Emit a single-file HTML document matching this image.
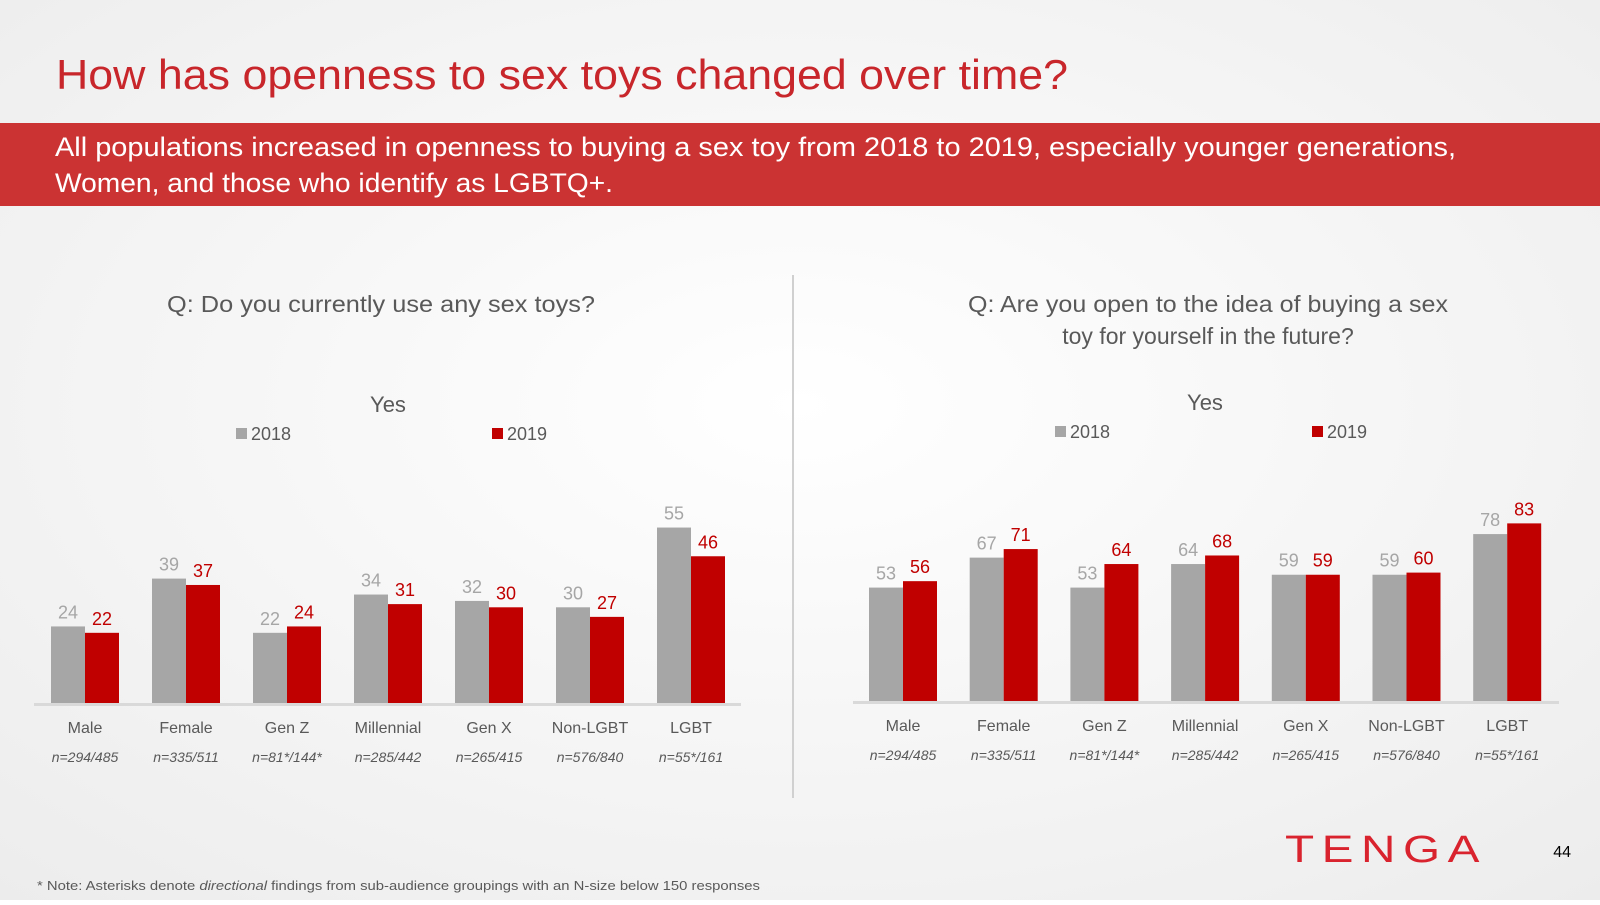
<!DOCTYPE html>
<html><head><meta charset="utf-8"><style>
html,body{margin:0;padding:0;}
body{width:1600px;height:900px;overflow:hidden;font-family:"Liberation Sans",sans-serif;}
svg text{font-family:"Liberation Sans",sans-serif;}
</style></head><body>
<svg id="s" width="1600" height="900" viewBox="0 0 1600 900" xmlns="http://www.w3.org/2000/svg">
<defs><radialGradient id="bg" cx="0.5" cy="0.45" r="0.75"><stop offset="0" stop-color="#ffffff"/><stop offset="1" stop-color="#ececec"/></radialGradient></defs>
<rect width="1600" height="900" fill="url(#bg)"/>
<text x="56" y="89" font-size="42" fill="#c8262b" textLength="1012" lengthAdjust="spacingAndGlyphs">How has openness to sex toys changed over time?</text>
<rect x="0" y="123" width="1600" height="83" fill="#cb3333"/>
<text x="55" y="156" font-size="27" fill="#fff" textLength="1401" lengthAdjust="spacingAndGlyphs">All populations increased in openness to buying a sex toy from 2018 to 2019, especially younger generations,</text>
<text x="55" y="192" font-size="27" fill="#fff" textLength="558" lengthAdjust="spacingAndGlyphs">Women, and those who identify as LGBTQ+.</text>
<line x1="793" y1="275" x2="793" y2="798" stroke="#d0d0d0" stroke-width="2"/>
<text x="381" y="312" font-size="23" fill="#595959" text-anchor="middle" textLength="428" lengthAdjust="spacingAndGlyphs">Q: Do you currently use any sex toys?</text>
<text x="1208" y="312" font-size="23" fill="#595959" text-anchor="middle" textLength="480" lengthAdjust="spacingAndGlyphs">Q: Are you open to the idea of buying a sex</text>
<text x="1208" y="344" font-size="23" fill="#595959" text-anchor="middle">toy for yourself in the future?</text>
<g id="left"></g>
<g id="right"></g>
<g>
<text x="1386" y="862" font-size="38" fill="#d9232e" text-anchor="middle" textLength="202" lengthAdjust="spacingAndGlyphs" letter-spacing="6">TENGA</text>
</g>
<text x="1571" y="857" font-size="16" fill="#000" text-anchor="end">44</text>
<text x="37" y="890" font-size="13" fill="#595959" textLength="723" lengthAdjust="spacingAndGlyphs">* Note: Asterisks denote <tspan font-style="italic">directional</tspan> findings from sub-audience groupings with an N-size below 150 responses</text>
</svg>
<script>
const categories = ["Male","Female","Gen Z","Millennial","Gen X","Non-LGBT","LGBT"];
const sampleSizes = ["n=294/485","n=335/511","n=81*/144*","n=285/442","n=265/415","n=576/840","n=55*/161"];
const useValues2018 = [24,39,22,34,32,30,55];
const useValues2019 = [22,37,24,31,30,27,46];
const openValues2018 = [53,67,53,64,59,59,78];
const openValues2019 = [56,71,64,68,59,60,83];
const seriesNames = ["2018","2019"];

const NS="http://www.w3.org/2000/svg";
function mk(parent,tag,attrs,txt){const e=document.createElementNS(NS,tag);for(const k in attrs)e.setAttribute(k,attrs[k]);if(txt!==undefined)e.textContent=txt;parent.appendChild(e);return e;}

function drawChart(gid,cfg,v18,v19){
  const g=document.getElementById(gid);
  const xC=i=>cfg.x0+i*cfg.step;
  const yS=v=>cfg.base-v*cfg.unit;
  let t=mk(g,'text',{x:cfg.titleX,y:cfg.base-291,'font-size':22,fill:'#595959','text-anchor':'middle'},'Yes');
  
  
  [[cfg.leg1,'#a6a6a6',seriesNames[0]],[cfg.leg2,'#c00000',seriesNames[1]]].forEach(([lx,c,n])=>{
    const r=mk(g,'rect',{x:lx,y:cfg.base-275,width:11,height:11,fill:c});
    
    
    const lt=mk(g,'text',{x:lx+15,y:cfg.base-263,'font-size':18,fill:'#595959'},n);
    
    
  });
  categories.forEach((c,i)=>{
    const cx=xC(i),w=34;
    const a=mk(g,'rect',{x:cx-w,y:yS(v18[i]),width:w,height:v18[i]*cfg.unit,fill:'#a6a6a6'});
    
    
    const b=mk(g,'rect',{x:cx,y:yS(v19[i]),width:w,height:v19[i]*cfg.unit,fill:'#c00000'});
    
    
    const la=mk(g,'text',{x:cx-17,y:yS(v18[i])-8,'font-size':18,fill:'#a6a6a6','text-anchor':'middle'},v18[i]);
    
    
    const lb=mk(g,'text',{x:cx+17,y:yS(v19[i])-8,'font-size':18,fill:'#c00000','text-anchor':'middle'},v19[i]);
    
    
    const cl=mk(g,'text',{x:cx,y:cfg.base+30,'font-size':16,fill:'#595959','text-anchor':'middle'},c);
    
    
    const nl=mk(g,'text',{x:cx,y:cfg.base+59,'font-size':14,fill:'#595959','font-style':'italic','text-anchor':'middle'},sampleSizes[i]);
    
    
  });
  const ax=mk(g,'line',{x1:cfg.ax1,x2:cfg.ax2,y1:cfg.base+1.5,y2:cfg.base+1.5,stroke:'#d9d9d9','stroke-width':3});
  
  
}
drawChart('left',{x0:85,step:101,base:703,unit:3.19,ax1:34,ax2:741,titleX:388,leg1:236,leg2:492},useValues2018,useValues2019);
drawChart('right',{x0:903,step:100.7,base:701,unit:2.14,ax1:853,ax2:1559,titleX:1205,leg1:1055,leg2:1312},openValues2018,openValues2019);
</script>
</body></html>
